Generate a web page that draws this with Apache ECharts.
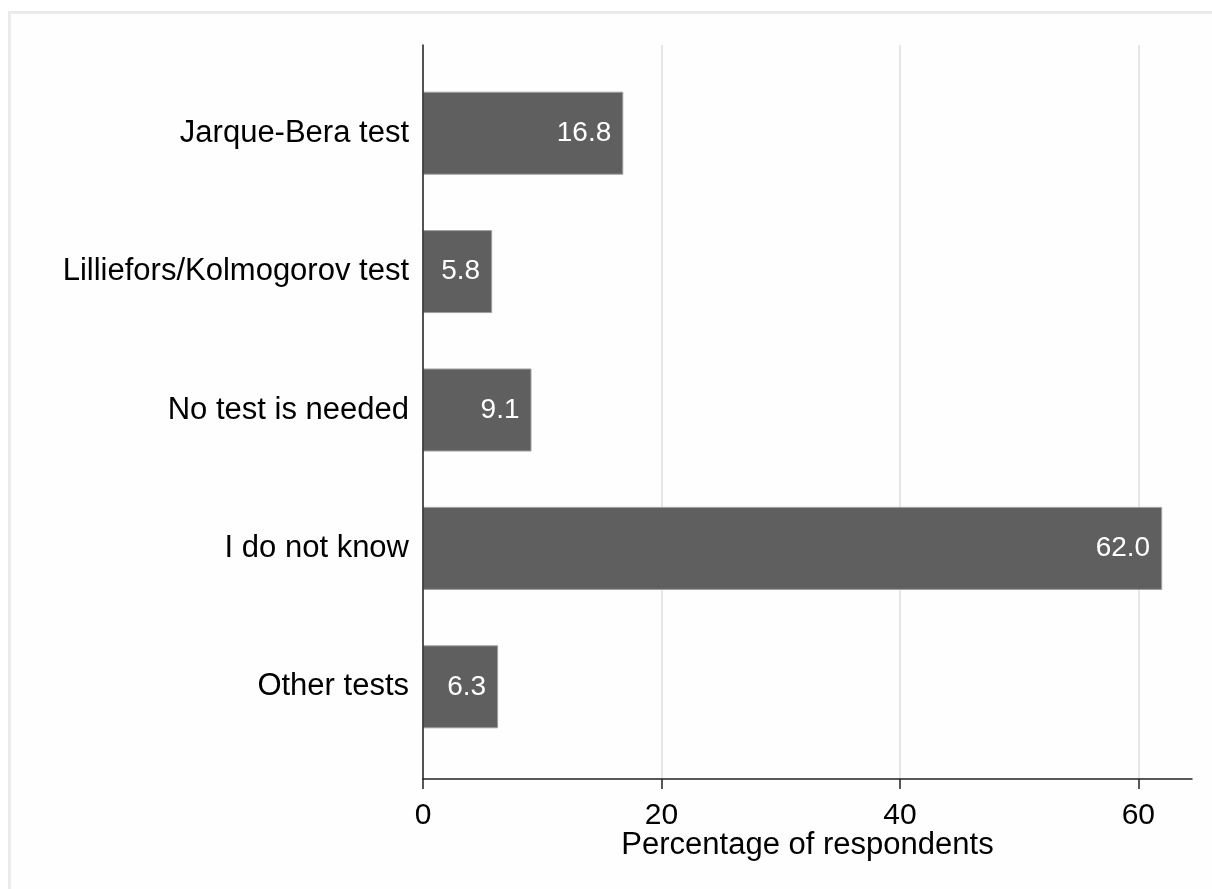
<!DOCTYPE html>
<html>
<head>
<meta charset="utf-8">
<script src="https://cdn.jsdelivr.net/npm/echarts@6/dist/echarts.min.js"></script>
<style>
html,body{margin:0;padding:0;background:#fff;}
#c{width:1212px;height:889px;}
</style>
</head>
<body>
<div id="c"></div>
<script>
const categories = ['Jarque-Bera test', 'Lilliefors/Kolmogorov test', 'No test is needed', 'I do not know', 'Other tests'];
const values = [16.8, 5.8, 9.1, 62.0, 6.3];
const xTicks = [0, 20, 40, 60];
const xAxisTitle = 'Percentage of respondents';

const FONT = "'Liberation Sans', Arial, sans-serif";
const chart = echarts.init(document.getElementById('c'), null, {renderer: 'canvas'});
const xMax = 64.5;

chart.setOption({
  backgroundColor: '#ffffff',
  animation: false,
  graphic: [{
    type: 'rect', silent: true, z: -10,
    shape: {x: 9.5, y: 12.5, width: 1300, height: 1000},
    style: {fill: '#fefefe', stroke: '#ebebeb', lineWidth: 3}
  }],
  grid: [
    {left: 423, right: 20, top: 45, bottom: 110},
    {left: 423, right: 20, top: 64, bottom: 133}
  ],
  xAxis: [
    {
      gridIndex: 0, type: 'value', min: xTicks[0], max: xMax, interval: 20,
      axisLine: {show: true, lineStyle: {color: '#222', width: 1.5}},
      axisTick: {show: true, length: 10, lineStyle: {color: '#222', width: 1.5},
                 customValues: xTicks},
      axisLabel: {show: true, customValues: xTicks, margin: 22, color: '#000',
                  fontFamily: FONT, fontSize: 30,
                  formatter: v => String(v)},
      splitLine: {show: true, lineStyle: {color: '#e6e6e6', width: 2}},
      name: xAxisTitle, nameLocation: 'middle', nameGap: 51, nameMoveOverlap: false,
      nameTextStyle: {color: '#000', fontFamily: FONT, fontSize: 31}
    },
    {gridIndex: 1, type: 'value', min: 0, max: xMax, show: false}
  ],
  yAxis: [
    {
      gridIndex: 0, type: 'value', min: 0, max: 1, z: 5,
      axisLine: {show: true, onZero: false, lineStyle: {color: '#222', width: 1.5}},
      axisTick: {show: false}, axisLabel: {show: false}, splitLine: {show: false}
    },
    {
      gridIndex: 1, type: 'category', inverse: true, data: categories,
      axisLine: {show: false}, axisTick: {show: false},
      axisLabel: {margin: 14, color: '#000', fontFamily: FONT, fontSize: 31}
    }
  ],
  series: [{
    type: 'bar', xAxisIndex: 1, yAxisIndex: 1, data: values,
    barWidth: 83,
    itemStyle: {color: '#5f5f5f', borderColor: '#a0a0a0', borderWidth: 1},
    label: {show: true, position: 'insideRight', distance: 12, color: '#fff',
            fontFamily: FONT, fontSize: 28,
            formatter: p => p.value.toFixed(1)}
  }]
});
</script>
</body>
</html>
